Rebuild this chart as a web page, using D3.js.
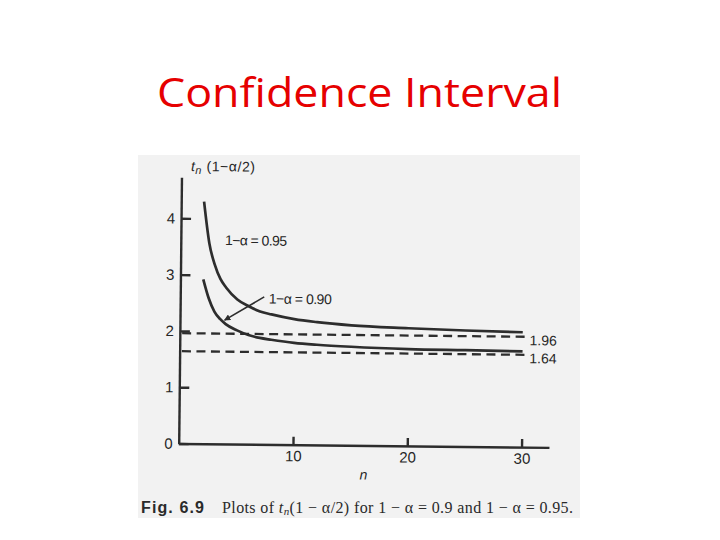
<!DOCTYPE html>
<html>
<head>
<meta charset="utf-8">
<script src="https://cdn.jsdelivr.net/npm/d3@7"></script>
<style>
  body { margin: 0; background: #fff; }
  svg { display: block; }
  .axis path, .axis line { stroke: #2d2d2d; stroke-width: 2.4; }
  .axis text { fill: #262626; }
</style>
</head>
<body>
<svg id="chart" width="720" height="540"></svg>
<script>
(function () {

    'use strict';

    // values
    var nValues = [2, 2.5, 3, 3.5, 4, 5, 6, 7, 8, 10, 12, 15, 20, 25, 30];
    var t95 = [4.30, 3.56, 3.18, 2.93, 2.78, 2.57, 2.45, 2.36, 2.31, 2.23, 2.18, 2.13, 2.09, 2.06, 2.04];
    var t90 = [2.92, 2.58, 2.35, 2.22, 2.13, 2.02, 1.94, 1.89, 1.86, 1.81, 1.78, 1.75, 1.72, 1.71, 1.70];
    var limits = [1.96, 1.64];
    var limitLabels = ["1.96", "1.64"];
    var xTicks = [10, 20, 30];
    var yTicks = [0, 1, 2, 3, 4];

    var ink = "#2d2d2d";
    var svg = d3.select("#chart");

    // slide title
    svg.append("text")
        .attr("x", 157)
        .attr("y", 107)
        .attr("textLength", 405)
        .attr("lengthAdjust", "spacingAndGlyphs")
        .attr("fill", "#e60000")
        .attr("font-family", "'Comic Sans MS', 'Open Sans', sans-serif")
        .attr("font-size", 41)
        .text("Confidence Interval");

    // scanned page
    svg.append("rect")
        .attr("x", 138).attr("y", 155)
        .attr("width", 442).attr("height", 363)
        .attr("fill", "#f2f2f2");

    // the scan is turned a little, so the plot is drawn in a rotated group
    var g = svg.append("g")
        .attr("transform", "translate(178.7,443.5) rotate(0.6)");

    var x = d3.scaleLinear().domain([0, 32.4]).range([0, 370.3]);
    var y = d3.scaleLinear().domain([0, 4.73]).range([0, -266.3]);

    g.append("g")
        .attr("class", "axis")
        .call(d3.axisBottom(x).tickValues(xTicks).tickSize(-8).tickSizeOuter(0).tickPadding(6))
        .attr("font-size", 15)
        .attr("font-family", "'Liberation Sans', Arial, sans-serif");

    g.append("g")
        .attr("class", "axis")
        .call(d3.axisLeft(y).tickValues(yTicks).tickFormat(d3.format("d"))
            .tickSize(-10).tickSizeOuter(0).tickPadding(6))
        .attr("font-size", 15)
        .attr("font-family", "'Liberation Sans', Arial, sans-serif");

    // limits of the curves
    g.selectAll("line.limit")
        .data(limits)
        .enter().append("line")
        .attr("class", "limit")
        .attr("x1", x(0.2))
        .attr("x2", x(30.2))
        .attr("y1", function (d) { return y(d); })
        .attr("y2", function (d) { return y(d); })
        .attr("stroke", ink)
        .attr("stroke-width", 2.3)
        .attr("stroke-dasharray", "9,5.5");

    g.selectAll("text.limit")
        .data(limits)
        .enter().append("text")
        .attr("class", "limit")
        .attr("x", x(30.6))
        .attr("y", function (d) { return y(d) + 3.5; })
        .attr("dy", "0.35em")
        .attr("fill", "#262626")
        .attr("font-family", "'Liberation Sans', Arial, sans-serif")
        .attr("font-size", 14)
        .text(function (d, i) { return limitLabels[i]; });

    var line = d3.line()
        .x(function (d) { return x(d[0]); })
        .y(function (d) { return y(d[1]); })
        .curve(d3.curveMonotoneX);

    [t95, t90].forEach(function (series) {
        g.append("path")
            .datum(nValues.map(function (n, i) { return [n, series[i]]; }))
            .attr("d", line)
            .attr("fill", "none")
            .attr("stroke", ink)
            .attr("stroke-width", 2.7);
    });

    // curve labels
    function label(n, t, w, txt) {
        g.append("text")
            .attr("x", x(n))
            .attr("y", y(t))
            .attr("dy", "0.35em")
            .attr("textLength", w)
            .attr("fill", "#262626")
            .attr("font-family", "'Liberation Sans', Arial, sans-serif")
            .attr("font-size", 14)
            .text(txt);
    }
    label(3.87, 3.62, 62, "1\u2212\u03b1 = 0.95");
    label(7.75, 2.59, 63, "1\u2212\u03b1 = 0.90");

    svg.append("defs").append("marker")
        .attr("id", "head")
        .attr("viewBox", "0 0 10 10")
        .attr("refX", 9).attr("refY", 5)
        .attr("markerWidth", 4).attr("markerHeight", 4)
        .attr("orient", "auto")
        .append("path")
        .attr("d", "M0,0L10,5L0,10z")
        .attr("fill", ink);

    g.append("line")
        .attr("x1", x(7.35)).attr("y1", y(2.62))
        .attr("x2", x(3.9)).attr("y2", y(2.2))
        .attr("stroke", ink)
        .attr("stroke-width", 1.6)
        .attr("marker-end", "url(#head)");

    // axis titles
    var yl = g.append("text")
        .attr("x", x(0.82))
        .attr("y", y(4.93))
        .attr("dy", "0.35em")
        .attr("textLength", 64)
        .attr("fill", "#262626")
        .attr("font-family", "'Liberation Sans', Arial, sans-serif")
        .attr("font-size", 14);
    yl.append("tspan").attr("font-style", "italic").text("t");
    yl.append("tspan").attr("font-style", "italic").attr("font-size", 11).attr("dy", 3).text("n");
    yl.append("tspan").attr("dy", -3).text(" (1\u2212\u03b1/2)");

    g.append("text")
        .attr("x", x(16.2))
        .attr("y", 34)
        .attr("text-anchor", "middle")
        .attr("fill", "#262626")
        .attr("font-family", "'Liberation Sans', Arial, sans-serif")
        .attr("font-style", "italic")
        .attr("font-size", 14)
        .text("n");

    // caption
    svg.append("text")
        .attr("x", 141)
        .attr("y", 513)
        .attr("textLength", 63)
        .attr("fill", "#2a2a2a")
        .attr("font-family", "'Liberation Sans', Arial, sans-serif")
        .attr("font-weight", "bold")
        .attr("font-size", 16)
        .text("Fig. 6.9");

    var cap = svg.append("text")
        .attr("x", 222)
        .attr("y", 513)
        .attr("textLength", 351)
        .attr("fill", "#2a2a2a")
        .attr("font-family", "'Liberation Serif', 'Times New Roman', serif")
        .attr("font-size", 16);
    cap.append("tspan").text("Plots of ");
    cap.append("tspan").attr("font-style", "italic").text("t");
    cap.append("tspan").attr("font-style", "italic").attr("font-size", 11).attr("dy", 2).text("n");
    cap.append("tspan").attr("dy", -2).text("(1 \u2212 \u03b1/2) for 1 \u2212 \u03b1 = 0.9 and 1 \u2212 \u03b1 = 0.95.");

})();
</script>
</body>
</html>
